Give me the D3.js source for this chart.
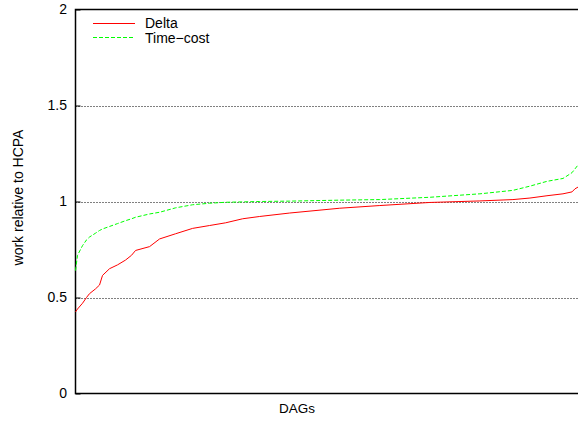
<!DOCTYPE html>
<html>
<head>
<meta charset="utf-8">
<script src="https://cdn.jsdelivr.net/npm/d3@7"></script>
<style>
  html, body { margin: 0; padding: 0; background: #fff; }
  svg { display: block; font-family: "Liberation Sans", Arial, Helvetica, sans-serif; }
</style>
</head>
<body>
<svg id="chart" width="578" height="421"></svg>
<script>
// DAG rank (sorted position) of each sample
const ranks = [0, 2, 7, 11, 14, 20, 24, 27, 34, 42, 50, 56, 60, 74, 84, 100, 117, 134, 150, 167, 184, 214, 264, 304, 354, 404, 437, 454, 471, 487, 496, 499, 502];
// Work relative to HCPA
const deltaValues = [0.425, 0.44, 0.47, 0.50, 0.52, 0.545, 0.565, 0.615, 0.65, 0.67, 0.695, 0.72, 0.745, 0.765, 0.805, 0.832, 0.86, 0.875, 0.889, 0.91, 0.922, 0.94, 0.965, 0.979, 0.995, 1.003, 1.01, 1.018, 1.03, 1.04, 1.05, 1.066, 1.075];
const timeCostValues = [0.64, 0.72, 0.77, 0.80, 0.815, 0.835, 0.849, 0.857, 0.87, 0.885, 0.90, 0.91, 0.918, 0.935, 0.944, 0.967, 0.983, 0.991, 0.996, 0.998, 1.0, 1.002, 1.007, 1.01, 1.022, 1.04, 1.058, 1.08, 1.105, 1.12, 1.15, 1.17, 1.19];
const yTicks = [0, 0.5, 1, 1.5, 2];
const yTickLabels = ["0", "0.5", "1", "1.5", "2"];
const seriesNames = ["Delta", "Time\u2212cost"];
const seriesColors = ["#ff0000", "#00ff00"];

const svg = d3.select("#chart");
const mLeft = 75.5, mRight = 578, mTop = 9.5, mBottom = 393.5;

const x = d3.scaleLinear().domain([0, 502]).range([mLeft, mRight]);
const y = d3.scaleLinear().domain([0, 2]).range([mBottom, mTop]);

// Grid lines (dotted), skip 0 and 2
svg.append("g").selectAll("line")
  .data(yTicks.filter(t => t > 0 && t < 2))
  .join("line")
  .attr("x1", mLeft).attr("x2", mRight)
  .attr("y1", d => Math.round(y(d)) + 0.5).attr("y2", d => Math.round(y(d)) + 0.5)
  .attr("stroke", "#000").attr("stroke-width", 1)
  .attr("stroke-dasharray", "1,2");

// Y axis with inward ticks
const yAxis = d3.axisLeft(y).tickValues(yTicks)
  .tickFormat((d, i) => yTickLabels[i])
  .tickSize(-5).tickPadding(8.5);
const ga = svg.append("g").attr("transform", `translate(${mLeft},0)`).call(yAxis);
ga.select(".domain").remove();
ga.selectAll(".tick line").attr("stroke", "#000").attr("stroke-width", 1);
ga.selectAll(".tick text").attr("font-size", "14px").attr("fill", "#000")
  .attr("font-family", "Liberation Sans, Arial, sans-serif");

// Frame: left, top, bottom
svg.append("path")
  .attr("d", `M${mRight},${mTop}H${mLeft}V${mBottom}H${mRight}`)
  .attr("fill", "none").attr("stroke", "#000").attr("stroke-width", 1.5);

// Lines
const line = vals => d3.line()
  .x((d, i) => x(ranks[i]))
  .y(d => y(d))(vals);

svg.append("path").attr("d", line(deltaValues))
  .attr("fill", "none").attr("stroke", seriesColors[0]).attr("stroke-width", 1);
svg.append("path").attr("d", line(timeCostValues))
  .attr("fill", "none").attr("stroke", seriesColors[1]).attr("stroke-width", 1)
  .attr("stroke-dasharray", "4,2");

// Legend
const legend = svg.append("g");
[0, 1].forEach(i => {
  const ly = 23.5 + i * 14;
  const ln = legend.append("line")
    .attr("x1", 93).attr("x2", 135).attr("y1", ly).attr("y2", ly)
    .attr("stroke", seriesColors[i]).attr("stroke-width", 1);
  if (i === 1) ln.attr("stroke-dasharray", "4,2");
  legend.append("text")
    .attr("x", 145).attr("y", 28.3 + i * 15)
    .attr("font-size", "14px").attr("fill", "#000")
    .text(seriesNames[i]);
});

// Axis titles
svg.append("text")
  .attr("x", 297).attr("y", 412.7)
  .attr("text-anchor", "middle").attr("font-size", "13.5px")
  .text("DAGs");
svg.append("text")
  .attr("transform", `translate(23,197.5) rotate(-90)`)
  .attr("text-anchor", "middle").attr("font-size", "14px")
  .text("work relative to HCPA");
</script>
</body>
</html>
